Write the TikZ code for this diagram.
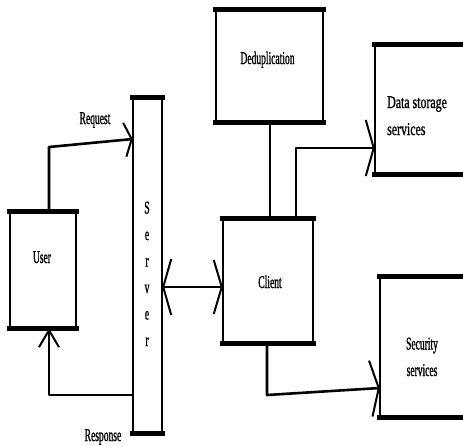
\documentclass[tikz,border=0pt]{standalone}
\usepackage{fontspec}
\usetikzlibrary{arrows.meta}
\newfontfamily\condfont[FakeStretch=0.53,FakeBold=1]{Liberation Serif}
\newfontfamily\widefont[FakeStretch=0.66,FakeBold=1]{Liberation Serif}
\begin{document}
\begin{tikzpicture}[x=1pt,y=-1pt,
  box/.style={draw=none,rectangle,inner sep=0pt},
  edgethick/.style={line width=5pt,line cap=rect},
  edgethin/.style={line width=2.2pt},
  conn/.style={line width=2pt},
  lbl/.style={font=\condfont\fontsize{18}{26.5}\selectfont,inner sep=0pt,anchor=base},
  wlbl/.style={font=\widefont\fontsize{18}{27}\selectfont,inner sep=0pt,anchor=base},
  bigbarb/.style={-{Straight Barb[length=8pt,width=56pt,line width=2pt]}},
  midbarb/.style={-{Straight Barb[length=7pt,width=34pt,line width=2pt]}},
  smallbarb/.style={-{Straight Barb[length=17pt,width=20pt,line width=2pt]}}]
\useasboundingbox (0,0) rectangle (463,445);

% boxes
\node[box,minimum width=66pt,minimum height=116pt] (user) at (43,270) {};
\node[box,minimum width=29pt,minimum height=335pt] (server) at (147.5,265.5) {};
\node[box,minimum width=90pt,minimum height=124pt] (client) at (268,281) {};
\node[box,minimum width=107pt,minimum height=112pt] (dedup) at (269.5,66) {};
\node[box,minimum width=95pt,minimum height=129pt] (data) at (422.5,109.5) {};
\node[box,minimum width=90pt,minimum height=140pt] (sec) at (425,347) {};

\foreach \n in {user,server,client,dedup}{
  \draw[edgethin] (\n.north west) -- (\n.south west);
  \draw[edgethin] (\n.north east) -- (\n.south east);
  \draw[edgethick] (\n.north west) -- (\n.north east);
  \draw[edgethick] (\n.south west) -- (\n.south east);
}
\foreach \n in {data,sec}{
  \draw[edgethin] (\n.north west) -- (\n.south west);
  \draw[edgethick] (\n.north west) -- (\n.north east);
  \draw[edgethick] (\n.south west) -- (\n.south east);
}

% texts
\node[lbl] (tuser) at (42,263) {User};
\node[lbl,align=center] (tserver) at (147,346) {S\\e\\r\\v\\e\\r};
\node[lbl] (tclient) at (270,288) {Client};
\node[lbl] (tdedup) at (267.5,64) {Deduplication};
\node[wlbl,align=left,anchor=base west] (tdata) at (387,135) {Data storage\\services};
\node[lbl,align=center] (tsec) at (422,376) {Security\\services};
\node[lbl] (treq) at (95,124) {Request};
\node[lbl] (tresp) at (103,441) {Response};

% helper coordinates
\coordinate (rq1) at (49,147);
\coordinate (rq2) at (0,139);
\coordinate (rs) at (49,395);
\coordinate (sc) at (0,287);
\coordinate (dc) at (270,0);
\coordinate (cd) at (296,148);
\coordinate (cs1) at (267,395);
\coordinate (cs2) at (0,388);

% connectors
\draw[conn,line width=2.6pt,midbarb,line join=round] (user.north -| rq1) -- (rq1) -- (server.west |- rq2);
\draw[conn,smallbarb,line join=round] (server.west |- rs) -- (rs) -- (user.south -| rs);
\draw[conn,{Straight Barb[length=8pt,width=56pt,line width=2pt]}-{Straight Barb[length=8pt,width=54pt,line width=2pt]}] (server.east |- sc) -- (client.west |- sc);
\draw[conn,line width=1.6pt] (dedup.south -| dc) -- (client.north -| dc);
\draw[conn,bigbarb,line join=round] (client.north -| cd) -- (cd) -- (data.west |- cd);
\draw[conn,line width=2.6pt,bigbarb,line join=round] (client.south -| cs1) -- (cs1) -- (sec.west |- cs2);
\end{tikzpicture}
\end{document}
